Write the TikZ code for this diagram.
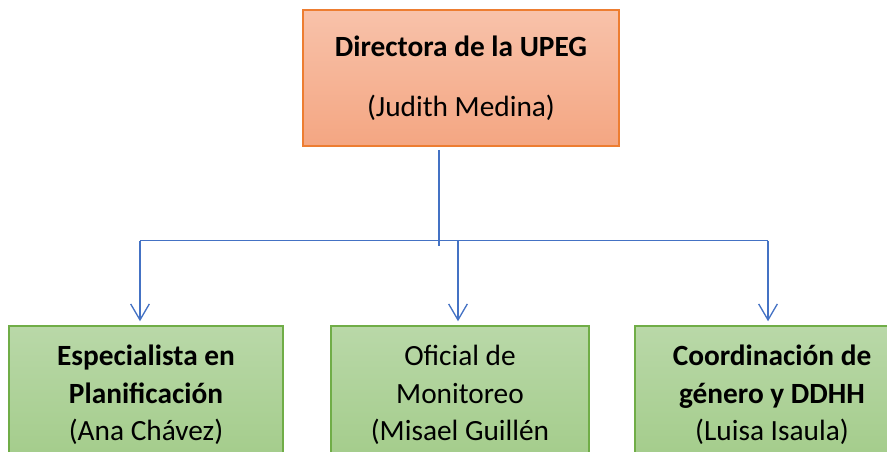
\documentclass[tikz,border=0pt]{standalone}
\usepackage{fontspec}
\setmainfont{Carlito}
\usetikzlibrary{arrows.meta}

\definecolor{orgline}{RGB}{237,125,49}
\definecolor{orgtop}{RGB}{248,194,170}
\definecolor{orgbot}{RGB}{244,166,130}
\definecolor{grnline}{RGB}{112,173,71}
\definecolor{grntop}{RGB}{185,216,168}
\definecolor{grnbot}{RGB}{163,204,138}
\definecolor{conn}{RGB}{68,114,196}

\tikzset{every picture/.style={line width=0.75pt}}

\begin{document}
\begin{tikzpicture}[x=0.75pt,y=0.75pt,yscale=-1,xscale=1,
  headbox/.style={draw=orgline,line width=1.1pt,top color=orgtop,bottom color=orgbot,
    minimum width=237pt,minimum height=102pt,align=center,inner sep=0pt,
    font=\fontsize{22}{45}\selectfont},
  unitbox/.style={draw=grnline,line width=1.1pt,top color=grntop,bottom color=grnbot,
    minimum height=103.5pt,align=center,inner sep=0pt,
    font=\fontsize{22}{28}\selectfont},
  link/.style={draw=conn,line width=1.1pt},
  drop/.style={link,-{Straight Barb[length=12pt,width=14pt,line width=1pt]},shorten >=3pt}]
\useasboundingbox (0,0) rectangle (887,452);
\clip (0,0) rectangle (887,452);

% Boxes
\node[headbox] (dir) at (461,78) {\textbf{Directora de la UPEG}\\(Judith Medina)};
\node[unitbox,minimum width=205.5pt] (esp) at (146,395) {\textbf{Especialista en}\\\textbf{Planificación}\\(Ana Chávez)};
\node[unitbox,minimum width=193.5pt] (mon) at (460,395) {Oficial de\\Monitoreo\\(Misael Guillén};
\node[unitbox,minimum width=205.5pt] (gen) at (772,395) {\textbf{Coordinación de}\\\textbf{género y DDHH}\\(Luisa Isaula)};

% Connector points
\coordinate (stem) at (439,150);
\coordinate (stemend) at (439,246);
\coordinate (busL) at (140,240.5);
\coordinate (busR) at (768,240.5);
\coordinate (busM) at (458,240.5);

% Connectors
\draw[link] (stem) -- (stemend);
\draw[link] (busL) -- (busR);
\draw[drop] (busL) -- (busL |- esp.north);
\draw[drop] (busM) -- (busM |- mon.north);
\draw[drop] (busR) -- (busR |- gen.north);

\end{tikzpicture}
\end{document}
